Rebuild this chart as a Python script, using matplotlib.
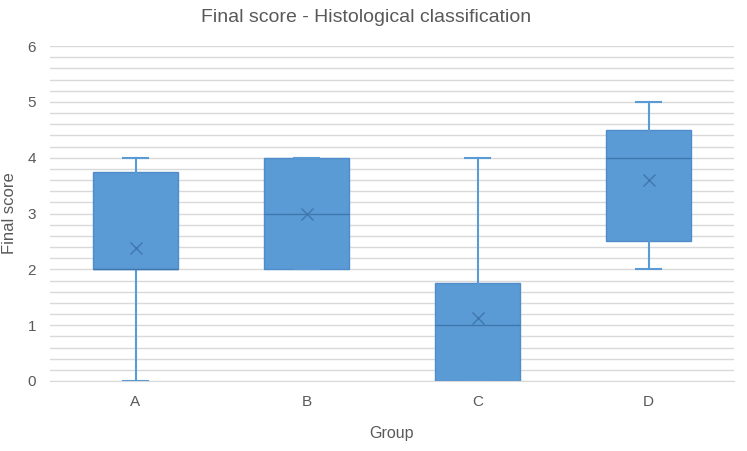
import matplotlib
matplotlib.use("Agg")
import matplotlib.pyplot as plt
import numpy as np

groups = ["A", "B", "C", "D"]
whisker_low = [0, 2, 0, 2]
q1 = [2, 2, 0, 2.5]
median = [2, 3, 1, 4]
q3 = [3.75, 4, 1.75, 4.5]
whisker_high = [4, 4, 4, 5]
means = [2.38, 3.0, 1.12, 3.6]

plt.rcParams['font.family'] = ['Liberation Sans', 'DejaVu Sans']

fig = plt.figure(figsize=(7.47, 4.51), dpi=100)
ax = fig.add_axes([50/747, (451-381)/451, (734-50)/747, (381-46)/451])

stats = []
for g, wl, a, m, b, wh, mu in zip(groups, whisker_low, q1, median, q3, whisker_high, means):
    stats.append(dict(label=g, whislo=wl, q1=a, med=m, q3=b, whishi=wh, mean=mu, fliers=[]))

fill = "#5B9BD5"
ax.bxp(stats, positions=np.arange(len(groups)), widths=0.5, patch_artist=True,
       showmeans=True, meanline=False,
       boxprops=dict(facecolor=fill, edgecolor="#4F8CC9", linewidth=1.0),
       medianprops=dict(color="#3F77AE", linewidth=1.0),
       whiskerprops=dict(color=fill, linewidth=1.5),
       capprops=dict(color=fill, linewidth=1.5),
       meanprops=dict(marker="x", markeredgecolor="#3F77AE", markersize=9, markeredgewidth=1.0),
       capwidths=0.15, zorder=3)

ax.set_xlim(-0.5, len(groups) - 0.5)
ax.set_ylim(0, 6)
ax.set_yticks(np.arange(0, 7, 1))
ax.set_yticks(np.arange(0, 6.01, 0.2), minor=True)
ax.grid(axis='y', which='both', color="#D9D9D9", linewidth=1.0, zorder=0)
ax.set_axisbelow(True)
for s in ["top", "right", "left"]:
    ax.spines[s].set_visible(False)
ax.spines["bottom"].set_color("#D9D9D9")
ax.tick_params(axis='both', which='both', length=0, colors="#595959", labelsize=11)
ax.tick_params(axis='x', pad=10)
ax.tick_params(axis='y', pad=10)
ax.set_xticks(np.arange(len(groups)))
ax.set_xticklabels(groups)
ax.set_xlabel("Group", color="#595959", fontsize=11.5, labelpad=12)
ax.set_ylabel("Final score", color="#595959", fontsize=12)
ax.yaxis.set_label_coords(-33/684, 0.5)
fig.text(366/747, 1 - 17/451, "Final score - Histological classification",
         color="#595959", fontsize=14, ha="center", va="center")

fig.savefig("out.png", dpi=100)
